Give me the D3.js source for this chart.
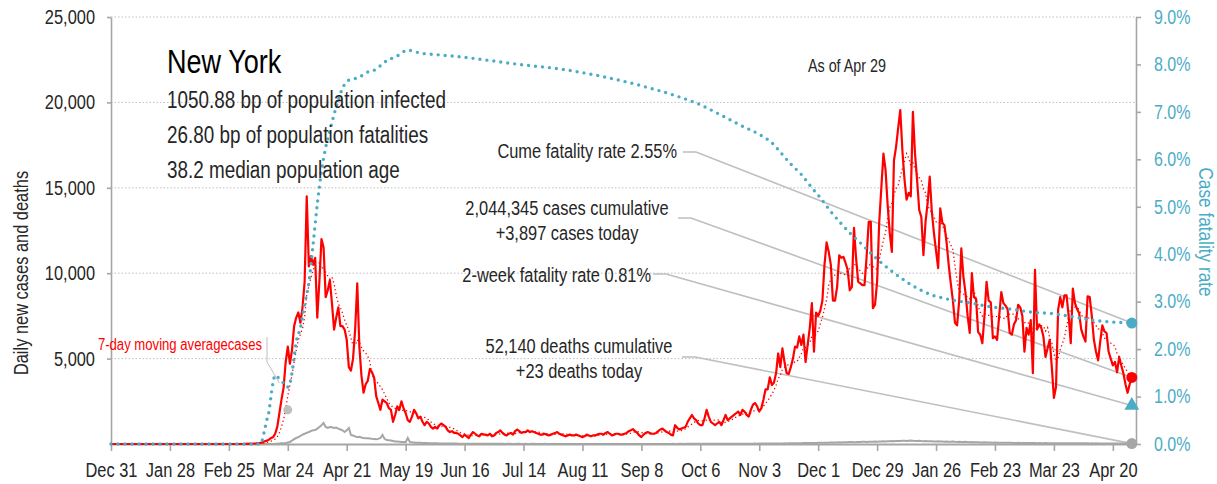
<!DOCTYPE html>
<html>
<head>
<meta charset="utf-8">
<script src="https://cdn.jsdelivr.net/npm/d3@7"></script>
<style>
  body { margin: 0; background: #fff; }
  svg text { font-family: "Liberation Sans", Arial, sans-serif; }
</style>
</head>
<body>
<svg id="chart" width="1217" height="484"></svg>
<script>
// daily series, one value per day starting at startDate
var startDate = '2019-12-31'
var endDate = '2021-05-01'

var cases = [
  0,
  0,0,0,0,0,0,0,0,0,0,0,0,0,0,0,0,0,0,0,0,0,0,0,0,0,0,0,0,0,0,0,
  0,0,0,0,0,0,0,0,0,0,0,0,0,0,0,0,0,0,0,0,0,0,0,0,0,0,0,0,0,
  // 2020 Mar
  1,0,1,9,11,22,13,30,37,50,63,95,154,196,250,350,400,600,1000,1800,2600,3300,4800,5700,4700,5500,6900,7400,7700,7100,8000,
  // Apr
  9500,14500,10400,11000,10500,10900,7400,9500,12000,11500,8600,9000,9600,8200,6700,7400,8000,6900,6900,6700,6100,4500,4300,5000,6700,9400,5700,4000,3000,3500,
  // May
  3700,4400,4200,3900,2800,2400,2000,2600,2500,2400,2100,2000,1300,1700,2200,2000,2500,2100,1800,1400,1300,1600,2000,1800,1500,1600,1300,1100,1300,1200,1000,
  // Jun
  900,1000,900,1100,1200,1100,1000,800,700,750,650,650,600,500,400,550,450,350,550,700,600,500,450,600,550,550,500,600,450,500,
  // Jul
  650,700,800,650,550,500,600,650,550,750,850,750,650,700,700,800,700,750,700,650,600,550,550,600,550,500,550,600,650,700,600,
  // Aug
  550,500,450,500,550,500,500,550,500,450,400,450,550,500,450,500,500,550,600,600,550,650,700,600,500,550,600,600,550,550,600,
  // Sep
  650,750,800,870,750,650,500,400,550,650,700,650,600,600,650,750,850,900,800,700,650,550,500,1100,950,850,900,950,1000,1300,
  // Oct
  1500,1700,1500,1400,1200,1100,1100,1500,2000,1600,1300,1200,1100,1200,1300,1100,1400,1700,1400,1500,1600,1700,1800,1900,1700,2000,1900,1700,1600,2000,2300,
  // Nov
  2400,2200,1900,2100,2600,3200,3200,3900,3450,3600,4150,5300,4500,5600,4800,4150,4100,4500,5000,5700,5650,6300,5800,6400,4800,5800,6800,8250,5400,7700,
  // Dec
  7500,7800,8400,10500,11800,11250,10500,8400,8400,9200,11050,10900,10950,10600,10200,9000,9200,12650,10900,9500,9400,9300,9300,10950,13000,13000,7950,8150,9500,13000,15000,
  // 2021 Jan
  17000,16050,14000,12350,11250,16600,17400,18500,19550,17200,15500,14300,14700,14500,19450,17000,15450,13700,13300,11050,13000,14100,15650,13600,12350,11300,10300,13800,12950,12800,11800,
  // Feb
  10500,9400,8400,7100,6950,8400,11450,9800,8850,7500,6500,10000,8600,8500,6550,6400,5900,7500,9500,8400,8300,6200,6300,6100,7500,8900,8250,8100,
  // Mar
  7900,6500,6400,7000,7250,8150,8000,7500,5400,6800,6400,7250,4150,10200,6700,7000,6800,6300,5100,5600,6100,4500,2700,3350,7850,8600,8000,8700,8700,7500,5900,
  // Apr
  9100,8250,7900,7650,6700,6300,6000,8650,8600,7500,6100,5400,4900,6000,6950,6600,6500,5400,5000,4600,4800,4200,5100,4600,4150,3500,3000,3500,3897
]

var deaths = [
  0,
  0,0,0,0,0,0,0,0,0,0,0,0,0,0,0,0,0,0,0,0,0,0,0,0,0,0,0,0,0,0,0,
  0,0,0,0,0,0,0,0,0,0,0,0,0,0,0,0,0,0,0,0,0,0,0,0,0,0,0,0,0,
  0,0,0,0,0,0,0,0,0,0,0,0,0,2,3,5,7,10,20,30,40,50,60,90,120,200,280,350,400,470,550,
  600,650,700,760,800,820,900,1000,1100,1230,1000,940,1000,980,940,960,900,850,800,700,800,940,530,500,450,400,420,380,350,340,
  340,320,300,290,280,300,350,530,300,230,220,200,180,150,140,130,120,110,100,350,120,100,90,80,70,70,60,60,55,50,45,
  45,40,40,35,35,30,30,28,25,25,25,22,20,20,18,18,15,15,14,14,12,12,12,10,10,10,10,9,9,8,
  8,9,10,8,7,9,10,8,7,6,8,9,7,6,8,7,6,9,8,7,6,5,7,8,6,5,7,6,5,6,7,
  6,5,6,7,5,4,6,5,6,7,5,4,6,5,4,6,5,4,6,5,4,5,6,5,4,5,6,5,4,5,6,
  5,4,5,6,5,4,5,6,5,4,5,6,7,5,6,5,4,6,7,5,6,7,8,6,7,8,9,7,8,9,
  10,9,11,12,10,9,11,13,12,11,10,12,14,13,12,15,14,13,16,15,14,17,16,15,18,17,16,19,20,18,21,
  22,20,24,26,25,23,27,28,30,26,32,35,30,34,38,36,40,42,38,45,48,44,50,55,52,58,60,56,62,65,
  68,72,66,75,80,78,85,90,84,92,98,95,100,105,98,110,115,108,112,120,118,125,130,122,128,135,130,140,138,145,150,
  155,148,160,165,170,158,175,180,172,185,190,178,195,200,188,180,175,185,170,165,175,160,155,165,150,145,155,140,150,138,145,
  135,130,140,125,120,130,118,115,125,110,105,115,100,98,108,95,92,100,88,85,90,80,82,78,75,80,72,70,
  72,68,70,65,62,66,60,58,62,55,58,60,52,55,50,53,48,50,52,46,48,50,45,47,44,46,42,45,43,40,44,
  42,40,43,38,40,41,37,39,36,38,35,37,34,36,33,35,32,34,31,33,30,32,29,30,28,30,27,26,23
]

// cumulative case fatality rate (%), read at these dates
var cfrDates = ['2019-12-31','2020-03-11','2020-03-12','2020-03-13','2020-03-14','2020-03-15','2020-03-16','2020-03-17','2020-03-18','2020-03-19','2020-03-21','2020-03-23','2020-03-24','2020-03-26','2020-03-27','2020-03-28','2020-03-30','2020-04-01','2020-04-03','2020-04-05','2020-04-07','2020-04-09','2020-04-11','2020-04-13','2020-04-15','2020-04-17','2020-04-19','2020-04-22','2020-04-27','2020-04-30','2020-05-05','2020-05-09','2020-05-15','2020-05-20','2020-05-26','2020-06-04','2020-06-14','2020-06-25','2020-07-12','2020-08-01','2020-08-20','2020-09-08','2020-09-27','2020-10-06','2020-10-15','2020-10-25','2020-11-04','2020-11-09','2020-11-14','2020-11-18','2020-11-23','2020-11-28','2020-12-02','2020-12-07','2020-12-12','2020-12-16','2020-12-21','2020-12-26','2020-12-31','2021-01-05','2021-01-10','2021-01-14','2021-01-19','2021-01-24','2021-01-29','2021-02-03','2021-02-12','2021-02-21','2021-03-03','2021-03-12','2021-03-22','2021-04-01','2021-04-10','2021-04-20','2021-04-29']
var cfrValues = [0,0,0.1,0.3,0.5,0.67,1.0,1.3,1.45,1.42,1.31,1.27,1.2,1.5,1.83,2.15,2.45,2.95,3.4,4.2,5.05,5.75,6.25,6.6,6.95,7.25,7.5,7.67,7.73,7.82,7.9,8.05,8.18,8.3,8.24,8.2,8.16,8.1,8.0,7.9,7.75,7.55,7.3,7.15,6.95,6.72,6.5,6.35,6.1,5.9,5.68,5.4,5.19,4.9,4.64,4.45,4.24,4.02,3.82,3.64,3.48,3.36,3.24,3.14,3.08,3.03,2.97,2.89,2.84,2.78,2.75,2.68,2.61,2.57,2.55]

var xTickDates = ['2019-12-31','2020-01-28','2020-02-25','2020-03-24','2020-04-21','2020-05-19','2020-06-16','2020-07-14','2020-08-11','2020-09-08','2020-10-06','2020-11-03','2020-12-01','2020-12-29','2021-01-26','2021-02-23','2021-03-23','2021-04-20']
var yTicks = [5000, 10000, 15000, 20000, 25000]
var yRightTicks = [0, 1, 2, 3, 4, 5, 6, 7, 8, 9]

var infoLines = ['1050.88 bp of population infected', '26.80 bp of population fatalities', '38.2 median population age']
var cumeRate = 2.55
var twoWeekRate = 0.81
var totalCases = 2044345
var totalDeaths = 52140
var asOf = 'Apr 29'
var pointerDot = ['2020-03-24', 2000]

var parse = d3.utcParse('%Y-%m-%d')
var svg = d3.select('#chart')
var pl = 111, pr = 1136, pt = 17, pb = 444
var teal = '#4BACC6', red = '#FF0000', grey = '#A6A6A6', ink = '#262626'
var NARROW = 0.82 // squeeze Liberation Sans to a narrow face

var x = d3.scaleUtc().domain([parse(startDate), parse(endDate)]).range([pl, pr])
var y = d3.scaleLinear().domain([0, 25000]).range([pb, pt])
var yr = d3.scaleLinear().domain([0, 9]).range([pb, pt])

var days = cases.map((v, i) => d3.utcDay.offset(parse(startDate), i))
var ma = cases.map((v, i) => d3.mean(cases.slice(Math.max(0, i - 6), i + 1)))
var lastDay = days[days.length - 1]

// grid
svg.append('g')
  .selectAll('line')
  .data(yTicks)
  .join('line')
  .attr('x1', pl).attr('x2', pr)
  .attr('y1', (d) => y(d)).attr('y2', (d) => y(d))
  .attr('stroke', '#BFBFBF')
  .attr('stroke-dasharray', '1.5 2')

// axes
function styleAxis (g, color, size) {
  g.select('.domain').attr('stroke', grey).attr('stroke-width', 1.6)
  g.selectAll('.tick line').attr('stroke', grey).attr('stroke-width', 1.6)
  g.selectAll('.tick text').attr('fill', color).style('font-size', size + 'px')
}

svg.append('g')
  .attr('transform', 'translate(' + pl + ',0)')
  .call(d3.axisLeft(y).tickValues(yTicks).tickFormat(d3.format(',')).tickSize(4).tickPadding(12).tickSizeOuter(0))
  .call((g) => styleAxis(g, ink, 20))

svg.append('g')
  .attr('transform', 'translate(' + pr + ',0)')
  .call(d3.axisRight(yr).tickValues(yRightTicks).tickFormat((d) => d3.format('.1f')(d) + '%').tickSize(5).tickPadding(13).tickSizeOuter(0))
  .call((g) => styleAxis(g, teal, 19.5))

svg.append('g')
  .attr('transform', 'translate(0,' + pb + ')')
  .call(d3.axisBottom(x).tickValues(xTickDates.map(parse)).tickFormat(d3.utcFormat('%b %-d')).tickSize(7).tickPadding(12).tickSizeOuter(0))
  .call((g) => styleAxis(g, ink, 20))
  .call((g) => g.select('.domain').attr('stroke-width', 2.2))

svg.append('text')
  .attr('transform', 'translate(28,273) rotate(-90)')
  .attr('text-anchor', 'middle')
  .attr('fill', ink)
  .style('font-size', '20px')
  .text('Daily new cases and deaths')

svg.append('text')
  .attr('transform', 'translate(1199,232) rotate(90)')
  .attr('text-anchor', 'middle')
  .attr('fill', teal)
  .style('font-size', '21px')
  .text('Case fatality rate')

// leader lines to the end markers
var notes = [
  { lines: ['Cume fatality rate ' + cumeRate.toFixed(2) + '%'], ax: 677, ay: 158, anchor: 'end', lx: 683, ly: 152, tx: lastDay, ty: yr(cumeRate) },
  { lines: [d3.format(',')(totalCases) + ' cases cumulative', '+' + d3.format(',')(cases[cases.length - 1]) + ' cases today'], ax: 567, ay: 215, anchor: 'middle', lx: 678, ly: 218, tx: lastDay, ty: y(cases[cases.length - 1]) },
  { lines: ['2-week fatality rate ' + twoWeekRate.toFixed(2) + '%'], ax: 651, ay: 282, anchor: 'end', lx: 653, ly: 274, tx: lastDay, ty: yr(twoWeekRate) },
  { lines: [d3.format(',')(totalDeaths) + ' deaths cumulative', '+' + deaths[deaths.length - 1] + ' deaths today'], ax: 579, ay: 353, anchor: 'middle', lx: 682, ly: 357, tx: lastDay, ty: y(deaths[deaths.length - 1]) }
]

svg.append('g')
  .selectAll('path')
  .data(notes)
  .join('path')
  .attr('fill', 'none')
  .attr('stroke', '#BFBFBF')
  .attr('stroke-width', 1.6)
  .attr('d', (d) => 'M' + d.lx + ',' + d.ly + 'H' + (d.lx + 13) + 'L' + x(d.tx) + ',' + d.ty)

var noteText = svg.append('g')
  .selectAll('text')
  .data(notes)
  .join('text')
  .attr('text-anchor', (d) => d.anchor)
  .attr('fill', ink)
  .style('font-size', '20px')
noteText.selectAll('tspan')
  .data((d) => d.lines.map((t) => ({ t, d })))
  .join('tspan')
  .attr('x', (e) => e.d.ax)
  .attr('y', (e, i) => e.d.ay + i * 25)
  .text((e) => e.t)

// series
var line = d3.line().x((d, i) => x(days[i]))

svg.append('path')
  .datum(deaths)
  .attr('fill', 'none')
  .attr('stroke', grey)
  .attr('stroke-width', 2)
  .attr('d', line.y((d) => y(d)))

svg.append('path')
  .datum(cases)
  .attr('fill', 'none')
  .attr('stroke', red)
  .attr('stroke-width', 2.2)
  .attr('stroke-linejoin', 'round')
  .attr('d', line.y((d) => y(d)))

svg.append('path')
  .datum(ma)
  .attr('fill', 'none')
  .attr('stroke', red)
  .attr('stroke-width', 1.3)
  .attr('stroke-dasharray', '1.3 2.7')
  .attr('d', line.y((d) => y(d)))

var cfr = cfrDates.map((d, i) => [parse(d), cfrValues[i]])
svg.append('path')
  .datum(cfr)
  .attr('fill', 'none')
  .attr('stroke', teal)
  .attr('stroke-width', 3.4)
  .attr('stroke-linecap', 'round')
  .attr('stroke-dasharray', '0 7')
  .attr('d', d3.line().curve(d3.curveMonotoneX).x((d) => x(d[0])).y((d) => yr(d[1])))

// end markers
svg.append('circle').attr('cx', x(lastDay)).attr('cy', yr(cumeRate)).attr('r', 5.5).attr('fill', teal)
svg.append('circle').attr('cx', x(lastDay)).attr('cy', y(cases[cases.length - 1])).attr('r', 5.5).attr('fill', red)
svg.append('path')
  .attr('d', d3.symbol(d3.symbolTriangle).size(95))
  .attr('transform', 'translate(' + x(lastDay) + ',' + yr(twoWeekRate) + ')')
  .attr('fill', teal)
svg.append('circle').attr('cx', x(lastDay)).attr('cy', y(deaths[deaths.length - 1])).attr('r', 5.5).attr('fill', grey)

// moving-average label
svg.append('circle').attr('cx', x(parse(pointerDot[0]))).attr('cy', y(pointerDot[1])).attr('r', 4.5).attr('fill', '#BFBFBF')
svg.append('path')
  .attr('fill', 'none')
  .attr('stroke', '#BFBFBF')
  .attr('stroke-width', 1)
  .attr('d', 'M267,337V362L' + x(parse('2020-03-20')) + ',383')
svg.append('text')
  .attr('x', 262).attr('y', 350)
  .attr('text-anchor', 'end')
  .attr('fill', red)
  .style('font-size', '16px')
  .text('7-day moving averagecases')

// title block
svg.append('text')
  .attr('x', 167).attr('y', 73)
  .attr('fill', '#000')
  .style('font-size', '33px')
  .text('New York')

svg.append('g')
  .selectAll('text')
  .data(infoLines)
  .join('text')
  .attr('x', 167)
  .attr('y', (d, i) => 108 + i * 35)
  .attr('fill', ink)
  .style('font-size', '23px')
  .text((d) => d)

svg.append('text')
  .attr('x', 847).attr('y', 72)
  .attr('text-anchor', 'middle')
  .attr('fill', ink)
  .style('font-size', '17.5px')
  .text('As of ' + asOf)

// no narrow face installed: compress every text run horizontally
svg.selectAll('text, tspan').each(function () {
  if (this.tagName === 'text' && this.querySelector('tspan')) return
  var w = this.getComputedTextLength()
  d3.select(this).attr('textLength', w * NARROW).attr('lengthAdjust', 'spacingAndGlyphs')
})
</script>
</body>
</html>
